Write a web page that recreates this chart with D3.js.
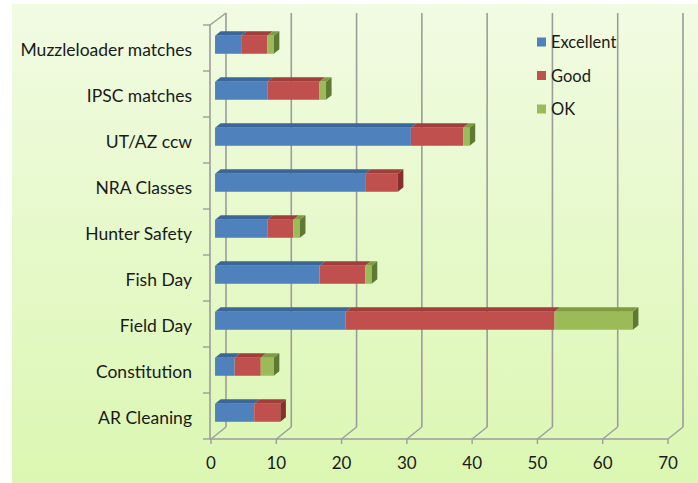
<!DOCTYPE html>
<html>
<head>
<meta charset="utf-8">
<script src="https://cdn.jsdelivr.net/npm/d3@7"></script>
<style>
  body { margin: 0; background: #fff; }
  text { font-family: Lato, "Open Sans", sans-serif; fill: #1a1a1a; }
</style>
</head>
<body>
<svg width="698" height="483" id="mainsvg"></svg>
<script>
// data, top to bottom as shown
const categories = ['Muzzleloader matches', 'IPSC matches', 'UT/AZ ccw', 'NRA Classes',
  'Hunter Safety', 'Fish Day', 'Field Day', 'Constitution', 'AR Cleaning']
const series = ['Excellent', 'Good', 'OK']
const excellent = [4, 8, 30, 23, 8, 16, 20, 3, 6]
const good      = [4, 8, 8, 5, 4, 7, 32, 4, 4]
const ok        = [1, 1, 1, 0, 1, 1, 12, 2, 0]
const xTicks = [0, 10, 20, 30, 40, 50, 60, 70]

const colors = {
  Excellent: { front: '#4f81bd', top: '#3b6699', side: '#2f5480' },
  Good:      { front: '#c0504d', top: '#a13e3b', side: '#85302e' },
  OK:        { front: '#9bbb59', top: '#7f9c43', side: '#5f7834' }
}

const svg = d3.select('#mainsvg')
const defs = svg.append('defs')
const grad = defs.append('linearGradient').attr('id', 'bg')
  .attr('x1', 0).attr('y1', 0).attr('x2', 0).attr('y2', 1)
grad.append('stop').attr('offset', '0%').attr('stop-color', '#f1fbe2')
grad.append('stop').attr('offset', '100%').attr('stop-color', '#dbf7b2')

svg.append('rect').attr('x', 12).attr('y', 4).attr('width', 686).attr('height', 479)
  .attr('fill', 'url(#bg)')

// front plane geometry + wall depth offset
const x = d3.scaleLinear().domain([0, 70]).range([211, 668])
const y = d3.scaleBand().domain(categories).range([25, 439]).paddingInner(0).paddingOuter(0)
const depthX = 15, depthY = -12
const baseY = 439
const P = (v, yy, d) => [x(v) + depthX * d, yy + depthY * d]

const g = svg.append('g')
const gridColor = '#9c9c9c'

// back wall gridlines
g.selectAll('line.grid').data(xTicks).join('line').attr('class', 'grid')
  .attr('x1', d => P(d, baseY, 1)[0]).attr('x2', d => P(d, baseY, 1)[0])
  .attr('y1', P(0, 25, 1)[1]).attr('y2', P(0, baseY, 1)[1])
  .attr('stroke', gridColor).attr('stroke-width', 1.6)

// floor diagonals
g.selectAll('line.floor').data(xTicks).join('line').attr('class', 'floor')
  .attr('x1', d => P(d, baseY, 0)[0]).attr('y1', d => P(d, baseY, 0)[1])
  .attr('x2', d => P(d, baseY, 1)[0]).attr('y2', d => P(d, baseY, 1)[1])
  .attr('stroke', gridColor).attr('stroke-width', 1.4)

// left wall top diagonal
g.append('line')
  .attr('x1', P(0, 25, 0)[0] - 1).attr('y1', 25)
  .attr('x2', P(0, 25, 1)[0]).attr('y2', P(0, 25, 1)[1])
  .attr('stroke', gridColor).attr('stroke-width', 1.4)

// front axes
g.append('line').attr('x1', x(0) - 1).attr('x2', x(0) - 1).attr('y1', 25).attr('y2', baseY)
  .attr('stroke', gridColor).attr('stroke-width', 1.6)
g.append('line').attr('x1', x(0) - 1).attr('x2', x(70)).attr('y1', baseY).attr('y2', baseY)
  .attr('stroke', gridColor).attr('stroke-width', 1.6)

// category ticks
const catTicks = categories.map(c => y(c)).concat([baseY])
g.selectAll('line.ctick').data(catTicks).join('line').attr('class', 'ctick')
  .attr('x1', x(0) - 8).attr('x2', x(0) - 1).attr('y1', d => d).attr('y2', d => d)
  .attr('stroke', gridColor).attr('stroke-width', 1.4)
// value ticks
g.selectAll('line.vtick').data(xTicks).join('line').attr('class', 'vtick')
  .attr('x1', d => x(d)).attr('x2', d => x(d)).attr('y1', baseY).attr('y2', baseY + 5)
  .attr('stroke', gridColor).attr('stroke-width', 1.4)

// stacked bars
const rows = categories.map((c, i) => ({ cat: c, Excellent: excellent[i], Good: good[i], OK: ok[i] }))
const stacked = d3.stack().keys(series)(rows)
const f0 = 0.27, f1 = 0.64, barH = 18

const poly = pts => 'M' + pts.map(p => p.join(',')).join('L') + 'Z'

rows.forEach((r, i) => {
  const cy = y(r.cat) + y.bandwidth() / 2
  const y0 = cy - barH / 2, y1 = cy + barH / 2
  const segs = stacked.map(s => ({ key: s.key, a: s[i][0], b: s[i][1] })).filter(s => s.b > s.a)
  const bg = g.append('g')
  segs.forEach(s => {
    const c = colors[s.key]
    // top face
    bg.append('path').attr('d', poly([P(s.a, y0, f0), P(s.b, y0, f0), P(s.b, y0, f1), P(s.a, y0, f1)]))
      .attr('fill', c.top)
    // front face
    const p0 = P(s.a, y0, f0), p1 = P(s.b, y1, f0)
    bg.append('rect').attr('x', p0[0]).attr('y', p0[1])
      .attr('width', p1[0] - p0[0]).attr('height', p1[1] - p0[1]).attr('fill', c.front)
  })
  const last = segs[segs.length - 1]
  bg.append('path')
    .attr('d', poly([P(last.b, y0, f0), P(last.b, y0, f1), P(last.b, y1, f1), P(last.b, y1, f0)]))
    .attr('fill', colors[last.key].side)
})

// category labels
svg.selectAll('text.cat').data(categories).join('text').attr('class', 'cat')
  .attr('x', 192).attr('y', d => y(d) + y.bandwidth() / 2 + 7.5)
  .attr('text-anchor', 'end').attr('font-size', 17.5).text(d => d)

// value labels
svg.selectAll('text.val').data(xTicks).join('text').attr('class', 'val')
  .attr('x', d => x(d)).attr('y', 469)
  .attr('text-anchor', 'middle').attr('font-size', 17).text(d => d)

// legend
const lg = svg.append('g').selectAll('g').data(series).join('g')
  .attr('transform', (d, i) => `translate(537, ${42 + i * 33.5})`)
lg.append('rect').attr('x', 0).attr('y', -4.5).attr('width', 9).attr('height', 9)
  .attr('fill', d => colors[d].front)
lg.append('text').attr('x', 14).attr('y', 6).attr('font-size', 16.5).text(d => d)
</script>
</body>
</html>
